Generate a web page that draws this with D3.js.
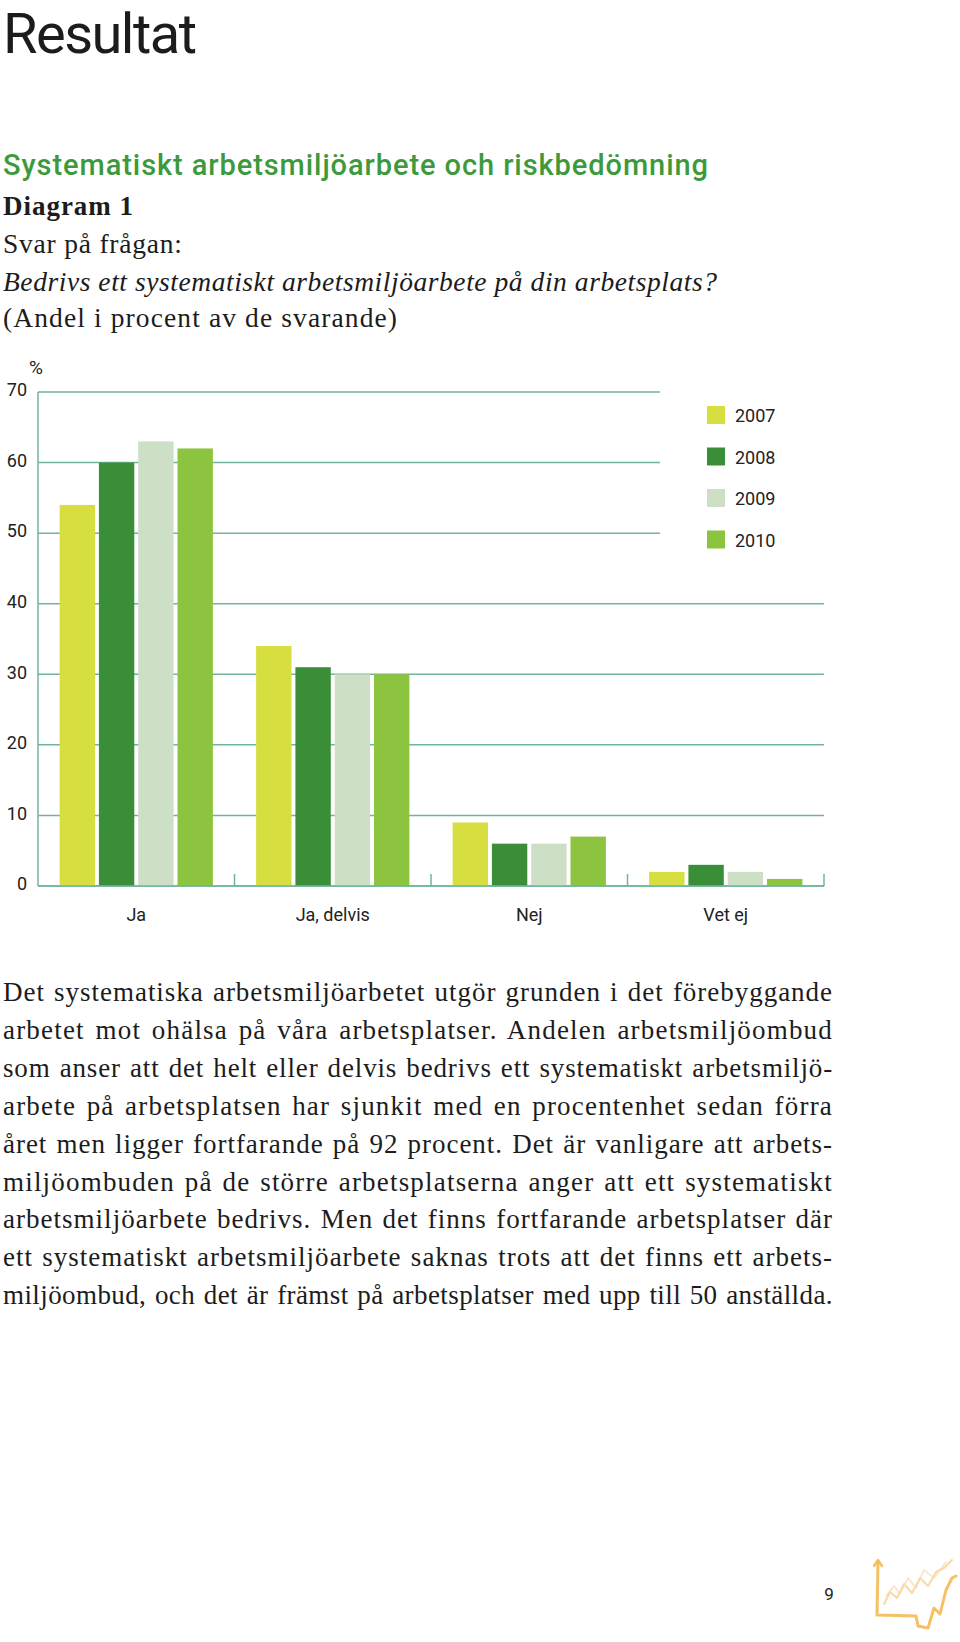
<!DOCTYPE html>
<html>
<head>
<meta charset="utf-8">
<script src="https://cdn.jsdelivr.net/npm/d3@7"></script>
<style>
  html, body { margin: 0; padding: 0; background: #fff; }
  svg { display: block; }
</style>
</head>
<body>
<svg id="page" width="960" height="1642"></svg>
<script>
// ---- data ----
const categories = ["Ja", "Ja, delvis", "Nej", "Vet ej"];
const years = ["2007", "2008", "2009", "2010"];
const values2007 = [54, 34, 9, 2];
const values2008 = [60, 31, 6, 3];
const values2009 = [63, 30, 6, 2];
const values2010 = [62, 30, 7, 1];
const yTicks = [0, 10, 20, 30, 40, 50, 60, 70];
const colors = ["#d6df3f", "#3a8e38", "#cddfc4", "#8cc43f"];

const seriesValues = [values2007, values2008, values2009, values2010];

const bodyLines = [
  "Det systematiska arbetsmiljöarbetet utgör grunden i det förebyggande",
  "arbetet mot ohälsa på våra arbetsplatser. Andelen arbetsmiljöombud",
  "som anser att det helt eller delvis bedrivs ett systematiskt arbetsmiljö-",
  "arbete på arbetsplatsen har sjunkit med en procentenhet sedan förra",
  "året men ligger fortfarande på 92 procent. Det är vanligare att arbets-",
  "miljöombuden på de större arbetsplatserna anger att ett systematiskt",
  "arbetsmiljöarbete bedrivs. Men det finns fortfarande arbetsplatser där",
  "ett systematiskt arbetsmiljöarbete saknas trots att det finns ett arbets-",
  "miljöombud, och det är främst på arbetsplatser med upp till 50 anställda."
];

const svg = d3.select("#page");
const sans = "Roboto, 'Liberation Sans', sans-serif";
const serif = "'Liberation Serif', 'DejaVu Serif', serif";

function fitLetters(sel, target) {
  const w = sel.node().getComputedTextLength();
  const n = sel.text().length;
  if (n > 1) sel.attr("letter-spacing", (target - w) / (n - 1));
}

// ---- headings ----
const title = svg.append("text").attr("x", 3).attr("y", 53)
  .attr("font-family", sans).attr("font-size", 56).attr("fill", "#1c1c1c")
  .text("Resultat");
fitLetters(title, 194);

const h2 = svg.append("text").attr("x", 3).attr("y", 175)
  .attr("font-family", sans).attr("font-size", 29).attr("font-weight", 500).attr("fill", "#3d9a3c")
  .text("Systematiskt arbetsmiljöarbete och riskbedömning");
fitLetters(h2, 705);

const d1 = svg.append("text").attr("x", 3).attr("y", 215)
  .attr("font-family", serif).attr("font-size", 27).attr("font-weight", "bold").attr("fill", "#1c1c1c")
  .text("Diagram 1");
fitLetters(d1, 130);

const s1 = svg.append("text").attr("x", 3).attr("y", 253)
  .attr("font-family", serif).attr("font-size", 27.5).attr("fill", "#1c1c1c")
  .text("Svar på frågan:");
fitLetters(s1, 179);

const q1 = svg.append("text").attr("x", 3).attr("y", 291)
  .attr("font-family", serif).attr("font-size", 27.5).attr("font-style", "italic").attr("fill", "#1c1c1c")
  .text("Bedrivs ett systematiskt arbetsmiljöarbete på din arbetsplats?");
fitLetters(q1, 714);

const a1 = svg.append("text").attr("x", 3).attr("y", 327)
  .attr("font-family", serif).attr("font-size", 27.5).attr("fill", "#1c1c1c")
  .text("(Andel i procent av de svarande)");
fitLetters(a1, 394);

// ---- chart ----
const gridColor = "#72b59b";
const y = d3.scaleLinear().domain([0, 70]).range([886, 392]);
const x0 = d3.scaleBand().domain(categories).range([38, 824]);
const x1 = d3.scaleBand().domain(years).range([0, x0.bandwidth()])
  .paddingInner(0.1).paddingOuter(0.55);

const chart = svg.append("g");

chart.selectAll("line.grid").data(yTicks).join("line")
  .attr("class", "grid")
  .attr("x1", 38).attr("x2", d => d >= 50 ? 660 : 824)
  .attr("y1", d => y(d)).attr("y2", d => y(d))
  .attr("stroke", gridColor).attr("stroke-width", 1.5);

const groups = chart.selectAll("g.cat").data(categories).join("g")
  .attr("class", "cat")
  .attr("transform", c => `translate(${x0(c)},0)`);
groups.selectAll("rect").data((c, i) => years.map((yr, j) => ({ yr, j, v: seriesValues[j][i] })))
  .join("rect")
  .attr("x", d => x1(d.yr))
  .attr("width", x1.bandwidth())
  .attr("y", d => y(d.v))
  .attr("height", d => y(0) - y(d.v))
  .attr("fill", d => colors[d.j]);

chart.append("line").attr("x1", 38).attr("x2", 38).attr("y1", y(70)).attr("y2", y(0))
  .attr("stroke", gridColor).attr("stroke-width", 1.5);
chart.append("line").attr("x1", 38).attr("x2", 824).attr("y1", y(0)).attr("y2", y(0))
  .attr("stroke", gridColor).attr("stroke-width", 1.5);

const sepX = categories.slice(1).map(c => x0(c)).concat([x0.range()[1]]);
chart.selectAll("line.sep").data(sepX).join("line")
  .attr("x1", d => d).attr("x2", d => d)
  .attr("y1", y(0)).attr("y2", y(0) - 12)
  .attr("stroke", gridColor).attr("stroke-width", 1.5);

chart.selectAll("text.ytick").data(yTicks).join("text")
  .attr("x", 27).attr("y", d => y(d) - 2)
  .attr("dy", "0.35em")
  .attr("text-anchor", "end")
  .attr("font-family", sans).attr("font-size", 18).attr("fill", "#222")
  .text(d => d);

chart.append("text").attr("x", 29).attr("y", 374)
  .attr("font-family", sans).attr("font-size", 19).attr("fill", "#222")
  .text("%");

chart.selectAll("text.cat").data(categories).join("text")
  .attr("x", c => x0(c) + x0.bandwidth() / 2).attr("y", 921)
  .attr("text-anchor", "middle")
  .attr("font-family", sans).attr("font-size", 18).attr("fill", "#222")
  .text(c => c);

const leg = chart.selectAll("g.leg").data(years).join("g")
  .attr("class", "leg")
  .attr("transform", (d, i) => `translate(707,${406 + i * 41.5})`);
leg.append("rect").attr("width", 18).attr("height", 18).attr("fill", (d, i) => colors[i]);
leg.append("text").attr("x", 28).attr("y", 10).attr("dy", "0.35em")
  .attr("font-family", sans).attr("font-size", 18).attr("fill", "#222")
  .text(d => d);

// ---- body text (justified) ----
const body = svg.append("g");
const target = 830;
const texts = bodyLines.map((line, i) => body.append("text")
  .attr("x", 3).attr("y", 1001 + i * 37.9)
  .attr("font-family", serif).attr("font-size", 27).attr("fill", "#1c1c1c")
  .text(line));
const nat = texts.map(t => t.node().getComputedTextLength());
const avgNat = d3.mean(nat);
const avgChars = d3.mean(bodyLines, l => l.length);
const ls = Math.max(0, (target - avgNat) / avgChars);
texts.forEach((t, i) => {
  const spaces = (bodyLines[i].match(/ /g) || []).length;
  t.attr("letter-spacing", ls);
  let w = t.node().getComputedTextLength();
  let ws = (target - w) / spaces;
  if (ws < 1.5) {
    // too tight: keep a small word gap and shrink letter spacing instead
    t.attr("word-spacing", 1.5);
    w = t.node().getComputedTextLength();
    const n = bodyLines[i].length;
    t.attr("letter-spacing", ls + (target - w) / n);
  } else {
    t.attr("word-spacing", ws);
  }
});

// ---- page number & logo ----
svg.append("text").attr("x", 829).attr("y", 1600).attr("text-anchor", "middle")
  .attr("font-family", sans).attr("font-size", 17).attr("fill", "#222").text("9");

const logo = svg.append("g").attr("fill", "none").attr("stroke-linecap", "round").attr("stroke-linejoin", "round");
const lineGen = d3.line();
logo.append("path").attr("d", lineGen([[878,1562],[877,1615],[916,1616],[918,1626],[928,1628],[934,1608],[940,1614],[946,1590],[952,1578],[956,1576]]))
  .attr("stroke", "#f5b54a").attr("stroke-width", 3).attr("opacity", 0.85);
logo.append("path").attr("d", lineGen([[874,1566],[878,1560],[882,1566]]))
  .attr("stroke", "#f5b54a").attr("stroke-width", 2.5).attr("opacity", 0.85);
logo.append("path").attr("d", lineGen([[884,1604],[890,1592],[897,1598],[904,1584],[912,1593],[920,1578],[928,1586],[936,1572],[944,1568],[952,1560]]))
  .attr("stroke", "#f7cf8e").attr("stroke-width", 2).attr("opacity", 0.8);
logo.append("path").attr("d", lineGen([[886,1596],[894,1586],[900,1594],[908,1578],[916,1588],[924,1570],[934,1578],[946,1562]]))
  .attr("stroke", "#f9dcaa").attr("stroke-width", 1.5).attr("opacity", 0.8);
</script>
</body>
</html>
